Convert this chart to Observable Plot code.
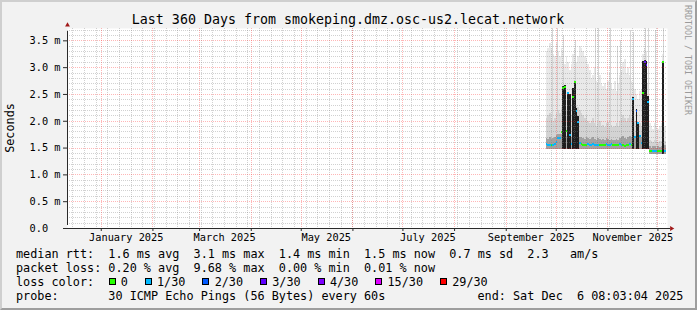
<!DOCTYPE html>
<html>
<head>
<meta charset="utf-8">
<script src="https://cdn.jsdelivr.net/npm/d3@7"></script>
<script src="https://cdn.jsdelivr.net/npm/@observablehq/plot@0.6"></script>
<style>
html, body { margin: 0; padding: 0; background: #ffffff; }
#wrap { position: relative; width: 697px; height: 310px; background: #f2f2f2; overflow: hidden; font-family: "DejaVu Sans Mono", monospace; }
#wrap > svg { position: absolute; left: 0; top: 0; }
#border { position: absolute; left: 0; top: 0; width: 697px; height: 310px; box-sizing: border-box; border-style: solid; border-width: 2px; border-color: #cfcfcf #9e9e9e #9e9e9e #cfcfcf; pointer-events: none; }
</style>
</head>
<body>
<div id="wrap"></div>
<script>
// ---------------- data ----------------
const titleText = "Last 360 Days from smokeping.dmz.osc-us2.lecat.network";
const yAxisTitle = "Seconds";
const watermark = "RRDTOOL / TOBI OETIKER";

const yTicks = [0, 0.5, 1, 1.5, 2, 2.5, 3, 3.5];
const yTickLabels = ["0.0  ", "0.5 m", "1.0 m", "1.5 m", "2.0 m", "2.5 m", "3.0 m", "3.5 m"];
const yMax = 3.73;

const xLabelDates = ["2025-01-16", "2025-03-16", "2025-05-16", "2025-07-16", "2025-09-16", "2025-11-16"];
const xLabels = ["January 2025", "March 2025", "May 2025", "July 2025", "September 2025", "November 2025"];

const lossLabels = ["0", "1/30", "2/30", "3/30", "4/30", "15/30", "29/30"];
const lossColors = ["#26ff00", "#00b8ff", "#0059ff", "#5e00ff", "#7e00ff", "#dd00ff", "#ff0000"];

const statsLines = [
  "median rtt:  1.6 ms avg  3.1 ms max  1.4 ms min  1.5 ms now  0.7 ms sd  2.3   am/s",
  "packet loss: 0.20 % avg  9.68 % max  0.00 % min  0.01 % now"
];
const lossTitle = "loss color:";
const probeText = "probe:       30 ICMP Echo Pings (56 Bytes) every 60s";
const endText = "end: Sat Dec  6 08:03:04 2025";

// daily bins starting at this date (ms values)
const firstDay = "2025-09-25";
const med = [1.57,1.56,1.56,1.55,1.56,1.57,1.62,1.68,1.68,1.80,
             2.62,2.64,1.81,2.52,1.74,1.58,2.45,2.73,2.20,1.98,
             1.60,1.57,1.56,1.55,1.56,1.57,1.56,1.56,1.57,1.56,
             1.55,1.56,1.55,1.56,1.55,1.56,1.57,1.56,1.56,1.57,
             1.55,1.55,1.56,1.55,1.57,1.56,1.55,1.54,1.55,1.55,
             1.57,1.56,2.42,1.70,2.20,1.96,1.72,1.60,2.52,3.10,
             3.05,2.36,1.45,1.44,1.44,1.45,1.44,1.45,1.44,1.44,
             3.10,1.45];
const loss = [1,1,1,0,1,1,1,1,1,0,
              0,0,0,1,1,1,0,0,1,1,
              1,0,0,0,0,1,1,1,1,1,
              1,1,0,0,0,0,1,1,1,1,
              0,0,0,0,1,1,0,0,0,0,
              1,0,1,1,2,1,1,1,0,3,
              3,1,0,0,1,1,1,0,0,0,
              0,1];
const lo = [1.47,1.47,1.47,1.47,1.47,1.47,1.47,1.47,1.47,1.47,
            1.47,1.47,1.47,1.47,1.47,1.47,1.47,1.47,1.47,1.47,
            1.47,1.47,1.47,1.47,1.47,1.47,1.47,1.47,1.47,1.47,
            1.47,1.47,1.47,1.47,1.47,1.47,1.47,1.47,1.47,1.47,
            1.47,1.47,1.47,1.47,1.47,1.47,1.47,1.47,1.47,1.47,
            1.47,1.47,1.47,1.47,1.47,1.47,1.47,1.47,1.47,1.47,
            1.47,1.47,1.38,1.38,1.38,1.38,1.38,1.38,1.38,1.38,
            1.38,1.38];
const near = [1.68,1.66,1.70,1.66,1.68,1.70,1.74,1.76,1.76,1.76,
              1.75,1.75,1.72,1.75,1.74,1.70,1.75,1.75,1.75,1.74,
              1.70,1.70,1.68,1.66,1.70,1.68,1.66,1.68,1.70,1.66,
              1.65,1.68,1.66,1.64,1.66,1.65,1.68,1.66,1.64,1.66,
              1.65,1.64,1.66,1.65,1.68,1.70,1.72,1.68,1.66,1.70,
              1.72,1.70,1.74,1.72,1.74,1.74,1.72,1.70,1.76,1.76,
              1.76,1.74,1.52,1.50,1.52,1.53,1.50,1.52,1.51,1.52,
              1.56,1.54];
const mid = [2.05,2.10,2.15,2.05,2.00,2.05,2.15,2.20,2.15,2.25,
             2.40,2.30,2.20,2.30,2.25,2.10,2.30,2.40,2.30,2.25,
             2.20,2.15,2.10,2.05,2.10,2.00,1.95,2.00,2.05,1.95,
             1.90,1.95,2.00,1.90,1.92,1.88,1.95,1.98,1.90,1.92,
             1.88,1.90,1.95,1.90,2.00,2.05,2.10,2.05,2.00,2.05,
             2.10,2.05,2.10,2.00,2.00,1.95,1.95,1.90,2.40,2.50,
             2.40,2.10,1.65,1.62,1.60,1.64,1.62,1.60,1.62,1.63,
             2.20,1.62];
const hi = [3.30,3.35,3.45,3.35,3.25,3.20,3.45,3.30,3.20,3.35,
            3.30,3.05,3.20,3.10,2.95,3.05,3.25,3.35,3.10,3.20,
            3.40,3.35,3.30,3.20,3.15,3.05,2.95,2.80,2.85,3.00,
            2.75,2.70,2.85,2.70,2.65,2.70,2.60,2.75,2.90,2.70,
            2.60,2.75,2.55,2.70,2.85,2.95,3.10,3.15,2.90,3.00,
            2.85,2.75,2.70,2.60,2.50,2.40,2.55,2.60,3.25,3.35,
            3.30,2.70,1.95,1.90,1.85,1.95,1.90,1.85,1.90,1.95,
            3.25,1.90];
const dark = [null,null,null,null,null,null,null,null,null,null,
              2.64,2.66,null,2.54,2.50,null,2.62,2.75,2.24,2.08,
              null,null,null,null,null,null,null,null,null,null,
              null,null,null,null,null,null,null,null,null,null,
              null,null,null,null,null,null,null,null,null,null,
              null,null,2.44,null,2.22,1.98,null,null,3.12,3.13,
              3.12,2.46,null,null,null,null,null,null,null,null,
              3.12,null];
const peak = [null,null,null,3.73,null,null,3.73,null,null,null,
              3.60,null,null,null,null,null,null,3.50,null,null,
              null,null,null,null,null,null,null,null,null,3.73,
              null,3.73,null,null,null,null,null,null,3.73,null,
              null,null,3.40,null,3.50,null,null,null,null,null,
              3.70,null,3.65,null,null,null,null,null,null,3.73,
              null,3.73,null,null,null,3.70,null,null,null,null,
              3.73,null];

// ---------------- build ----------------
const tStart = new Date(Date.UTC(2024, 11, 11, 18));
const tEnd = d3.utcDay.offset(tStart, 360);
const day0 = new Date(firstDay);
const rows = med.map((m, i) => ({
  date: d3.utcDay.offset(day0, i),
  next: d3.utcDay.offset(day0, i + 1),
  med: m, loss: loss[i], lo: lo[i], near: near[i], mid: mid[i], hi: hi[i], dark: dark[i], peak: peak[i]
}));
const darkRows = rows.filter(d => d.dark != null);
const peakRows = rows.filter(d => d.peak != null);

const yLabelMap = new Map(yTicks.map((v, i) => [v, yTickLabels[i].replace(/ /g, "\u00a0")]));
const xTickDates = xLabelDates.map(s => new Date(s));
const xLabelMap = new Map(xTickDates.map((d, i) => [+d, xLabels[i]]));

const minorY = d3.range(1, 38).filter(k => k % 5 !== 0).map(k => k / 10);
const majorY = yTicks.filter(v => v > 0);
const sundays = d3.utcSunday.range(tStart, tEnd);
const monthStarts = d3.utcMonth.range(tStart, tEnd);

const axisColor = "#2a2a2a";
const arrowColor = "#a01818";

const chart = Plot.plot({
  width: 697,
  height: 245,
  marginLeft: 67,
  marginRight: 30,
  marginTop: 28,
  marginBottom: 17,
  style: { background: "transparent", fontFamily: "DejaVu Sans Mono", overflow: "visible", color: "#000" },
  x: { type: "utc", domain: [tStart, tEnd], label: null },
  y: { domain: [0, yMax], label: null },
  color: { type: "identity" },
  marks: [
    Plot.frame({ fill: "white", stroke: "none" }),
    // smoke
    Plot.rect(rows, { x1: "date", x2: "next", y1: "lo", y2: "hi", fill: "#e9e9e9", shapeRendering: "crispEdges" }),
    Plot.ruleX(peakRows, { x: d => new Date((+d.date + +d.next) / 2), y1: "lo", y2: "peak", stroke: "#d4d4d4", shapeRendering: "crispEdges" }),
    Plot.rect(rows, { x1: "date", x2: "next", y1: "lo", y2: "mid", fill: "#d3d3d3", shapeRendering: "crispEdges" }),
    Plot.rect(rows, { x1: "date", x2: "next", y1: "lo", y2: "near", fill: "#a2a2a2", shapeRendering: "crispEdges" }),
    Plot.rect(darkRows, { x1: "date", x2: "next", y1: "lo", y2: "dark", fill: "#1e1e1e", shapeRendering: "crispEdges" }),
    // median coloured by loss
    Plot.ruleY(rows, { x1: "date", x2: "next", y: "med", stroke: d => lossColors[d.loss], strokeWidth: 2, shapeRendering: "crispEdges" }),
    // grid
    Plot.ruleY(minorY, { stroke: "#808080", strokeOpacity: 0.36, strokeDasharray: "1,1", shapeRendering: "crispEdges" }),
    Plot.ruleX(sundays, { stroke: "#808080", strokeOpacity: 0.36, strokeDasharray: "1,1", shapeRendering: "crispEdges" }),
    Plot.ruleY(majorY, { stroke: "#ff2020", strokeOpacity: 0.33, strokeDasharray: "1,1", shapeRendering: "crispEdges" }),
    Plot.ruleX(monthStarts, { stroke: "#ff2020", strokeOpacity: 0.33, strokeDasharray: "1,1", shapeRendering: "crispEdges" }),
    // axes
    Plot.axisY({ ticks: yTicks, tickFormat: d => yLabelMap.get(d), tickSize: 4, tickPadding: 3, fontSize: 10.3, stroke: axisColor, fill: "#000", label: null }),
    Plot.axisX({ ticks: xTickDates, tickFormat: d => xLabelMap.get(+d), tickSize: 0, tickPadding: 5, fontSize: 10.3, fill: "#000", label: null }),
    Plot.axisX({ ticks: monthStarts, tickFormat: () => "", tickSize: 3, stroke: axisColor, label: null }),
    Plot.ruleY([0], { x1: () => tStart, x2: () => tEnd, insetLeft: -4, insetRight: -3, stroke: axisColor }),
    Plot.ruleX([tStart], { y1: () => 0, y2: () => yMax, insetTop: -3, insetBottom: -3, stroke: axisColor }),
    Plot.dot([tStart], { x: d => d, y: () => yMax, symbol: "triangle", r: 1.8, fill: arrowColor, stroke: "none", dy: -3.5 }),
    Plot.dot([tEnd], { x: d => d, y: () => 0, symbol: "triangle", rotate: 90, r: 1.8, fill: arrowColor, stroke: "none", dx: 4 })
  ]
});

const wrap = document.getElementById("wrap");
wrap.appendChild(chart);

// text overlay
const nb = s => s.replace(/ /g, "\u00a0");
const ov = d3.select(wrap).append("svg")
  .attr("width", 697).attr("height", 310)
  .style("font-family", "'DejaVu Sans Mono', monospace");

ov.append("text").attr("x", 348).attr("y", 24.3).attr("text-anchor", "middle")
  .attr("font-size", 13.3).attr("fill", "#000").text(titleText);

ov.append("text").attr("transform", "translate(14.3,128) rotate(-90)").attr("text-anchor", "middle")
  .attr("font-size", 11.8).attr("fill", "#000").text(yAxisTitle);

ov.append("text").attr("transform", "translate(685,5) rotate(90)")
  .attr("font-size", 8.3).attr("fill", "#9a9a9a").text(watermark);

const baselines = [257.5, 271.7, 285.8, 300];
statsLines.forEach((s, i) => {
  ov.append("text").attr("x", 16).attr("y", baselines[i]).attr("font-size", 11.8).attr("fill", "#000").text(nb(s));
});
ov.append("text").attr("x", 16).attr("y", baselines[2]).attr("font-size", 11.8).attr("fill", "#000").text(nb(lossTitle));
let lx = 108.5;
lossLabels.forEach((lab, i) => {
  ov.append("rect").attr("x", lx + 0.5).attr("y", 278.5).attr("width", 6).attr("height", 6)
    .attr("fill", lossColors[i]).attr("stroke", "#000").attr("stroke-width", 1).attr("shape-rendering", "crispEdges");
  const t = ov.append("text").attr("x", lx + 12.2).attr("y", baselines[2]).attr("font-size", 11.8).attr("fill", "#000").text(lab);
  lx = lx + 12.2 + t.node().getComputedTextLength() + 17;
});
ov.append("text").attr("x", 16).attr("y", baselines[3]).attr("font-size", 11.8).attr("fill", "#000").text(nb(probeText));
ov.append("text").attr("x", 477.5).attr("y", baselines[3]).attr("font-size", 11.8).attr("fill", "#000").text(nb(endText));

const border = document.createElement("div");
border.id = "border";
wrap.appendChild(border);
</script>
</body>
</html>
